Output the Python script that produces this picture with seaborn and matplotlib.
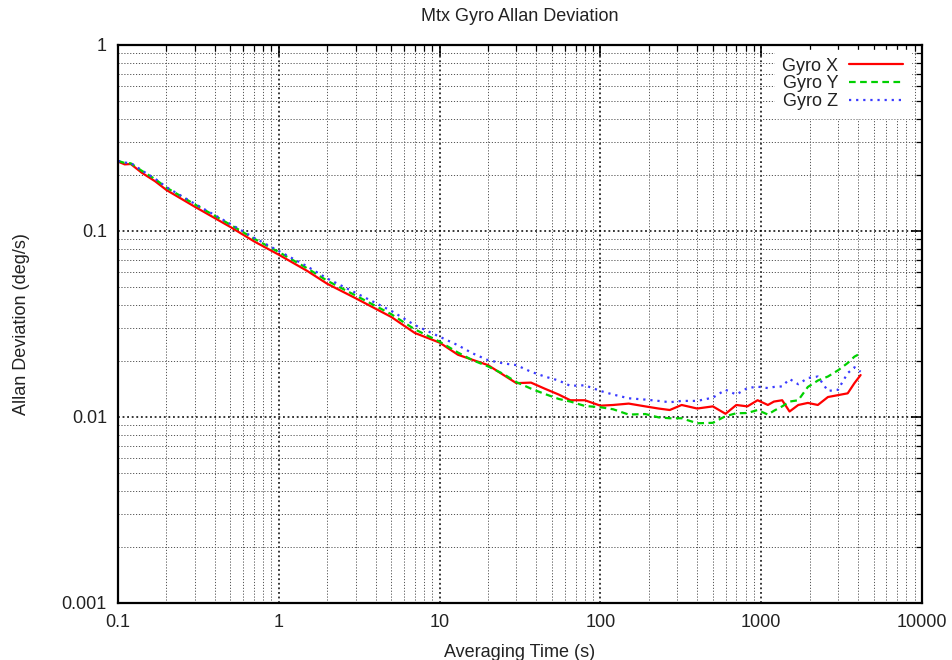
import numpy as np
import pandas as pd
import matplotlib
matplotlib.use("Agg")
import matplotlib.pyplot as plt
from matplotlib.ticker import FixedLocator, FuncFormatter, LogLocator, NullFormatter
import seaborn as sns

# ---- data ----
tau = [0.1, 0.11, 0.12, 0.14, 0.17, 0.2, 0.3, 0.5, 0.7, 1, 1.5, 2, 3, 5, 7, 10,
       13, 16, 20, 25, 30, 37, 45, 55, 65, 80, 100, 120, 150, 190, 230, 270,
       320, 400, 500, 600, 700, 820, 950, 1100, 1200, 1350, 1500, 1700, 1950,
       2250, 2600, 3000, 3450, 3800, 4150]

gyro_x = [0.236, 0.228, 0.229, 0.206, 0.185, 0.166, 0.135, 0.105, 0.088, 0.0745,
          0.061, 0.052, 0.0435, 0.0345, 0.0283, 0.0251,
          0.0216, 0.0203, 0.0190, 0.0168, 0.0152, 0.0153, 0.0142, 0.0132, 0.0123,
          0.0123, 0.0115, 0.0116, 0.0118, 0.0114, 0.0111, 0.0109,
          0.0116, 0.0111, 0.0114, 0.0104, 0.0116, 0.0114, 0.0123, 0.0116, 0.0121,
          0.0123, 0.0107, 0.0116, 0.0119,
          0.0116, 0.0128, 0.0131, 0.0134, 0.0152, 0.0168]

gyro_y = [0.238, 0.232, 0.231, 0.211, 0.190, 0.171, 0.139, 0.108, 0.091, 0.077,
          0.063, 0.054, 0.045, 0.0357, 0.0296, 0.0254,
          0.0222, 0.0202, 0.0187, 0.0170, 0.0154, 0.0142, 0.0133, 0.0125, 0.0121,
          0.01146, 0.01128, 0.0110, 0.0103, 0.01037, 0.00995, 0.00984,
          0.00984, 0.00925, 0.0093, 0.0101, 0.01047, 0.0105, 0.0109, 0.0103, 0.0108,
          0.0114, 0.0121, 0.0123, 0.0145,
          0.0157, 0.0165, 0.0178, 0.0195, 0.0211, 0.0220]

gyro_z = [0.238, 0.233, 0.232, 0.212, 0.191, 0.172, 0.140, 0.109, 0.092, 0.078,
          0.0645, 0.0555, 0.0465, 0.0372, 0.0312, 0.0270,
          0.0243, 0.0220, 0.0202, 0.0194, 0.0190, 0.0175, 0.0165, 0.0157, 0.0147,
          0.0148, 0.0138, 0.0132, 0.0126, 0.0124, 0.0122, 0.0120,
          0.0122, 0.0122, 0.0127, 0.0140, 0.0132, 0.0143, 0.01455, 0.0143, 0.0145,
          0.0146, 0.0160, 0.0150, 0.0162,
          0.0165, 0.0138, 0.0140, 0.0172, 0.0185, 0.0175]

series_names = ["Gyro X", "Gyro Y", "Gyro Z"]
x_ticks = [0.1, 1, 10, 100, 1000, 10000]
y_ticks = [0.001, 0.01, 0.1, 1]

# ---- style ----
sns.set_style("white")
plt.rcParams["font.family"] = ["Liberation Sans", "DejaVu Sans"]
FS = 13

fig = plt.figure(figsize=(9.52, 6.6), dpi=100)
ax = fig.add_axes([0.124, 0.0864, 0.8445, 0.8455])

df = pd.DataFrame({
    "tau": tau * 3,
    "adev": gyro_x + gyro_y + gyro_z,
    "series": sum([[n] * len(tau) for n in series_names], []),
})

palette = {"Gyro X": "#ff0000", "Gyro Y": "#00d000", "Gyro Z": "#3a3aff"}
dashes = {"Gyro X": "", "Gyro Y": (3, 2), "Gyro Z": (1, 2.2)}

sns.lineplot(data=df, x="tau", y="adev", hue="series", style="series",
             palette=palette, dashes=dashes, linewidth=1.6, ax=ax,
             estimator=None, sort=False)

ax.set_xscale("log")
ax.set_yscale("log")
ax.set_xlim(0.1, 10000)
ax.set_ylim(0.001, 1)

ax.xaxis.set_major_locator(FixedLocator(x_ticks))
ax.yaxis.set_major_locator(FixedLocator(y_ticks))
fmt = FuncFormatter(lambda v, p: f"{v:g}")
ax.xaxis.set_major_formatter(fmt)
ax.yaxis.set_major_formatter(fmt)
ax.xaxis.set_minor_locator(LogLocator(base=10, subs=np.arange(2, 10)))
ax.yaxis.set_minor_locator(LogLocator(base=10, subs=np.arange(2, 10)))
ax.xaxis.set_minor_formatter(NullFormatter())
ax.yaxis.set_minor_formatter(NullFormatter())

ax.grid(True, which="major", color="black", linestyle=(0, (1.2, 1.8)), linewidth=1.1)
ax.grid(True, which="minor", color="#555555", linestyle=(0, (1.2, 1.8)), linewidth=0.7)
ax.set_axisbelow(True)

ax.tick_params(which="both", direction="in", top=True, right=True, colors="black",
               labelcolor="#222222")
ax.tick_params(which="major", length=8, width=1.2, labelsize=FS, pad=8)
ax.tick_params(which="minor", length=4, width=0.9)
for s in ax.spines.values():
    s.set_visible(True)
    s.set_color("black")
    s.set_linewidth(1.6)

ax.set_title("Mtx Gyro Allan Deviation", fontsize=FS, pad=17, color="#222222")
ax.set_xlabel("Averaging Time (s)", fontsize=FS, labelpad=9, color="#222222")
ax.set_ylabel("Allan Deviation (deg/s)", fontsize=FS, labelpad=23, color="#222222")

leg = ax.legend(loc="upper right", bbox_to_anchor=(0.9925, 1.0),
                markerfirst=False, frameon=True, fontsize=FS,
                handlelength=3.0, borderaxespad=0.3, labelspacing=0.05,
                handletextpad=0.6, borderpad=0.4)
leg.get_frame().set_facecolor("white")
leg.get_frame().set_edgecolor("white")
leg.get_frame().set_alpha(1.0)
leg.get_frame().set_boxstyle("square", pad=0.0)
for t in leg.get_texts():
    t.set_ha("right")
    t.set_color("#222222")

fig.savefig("out.png", dpi=100, facecolor="white")
